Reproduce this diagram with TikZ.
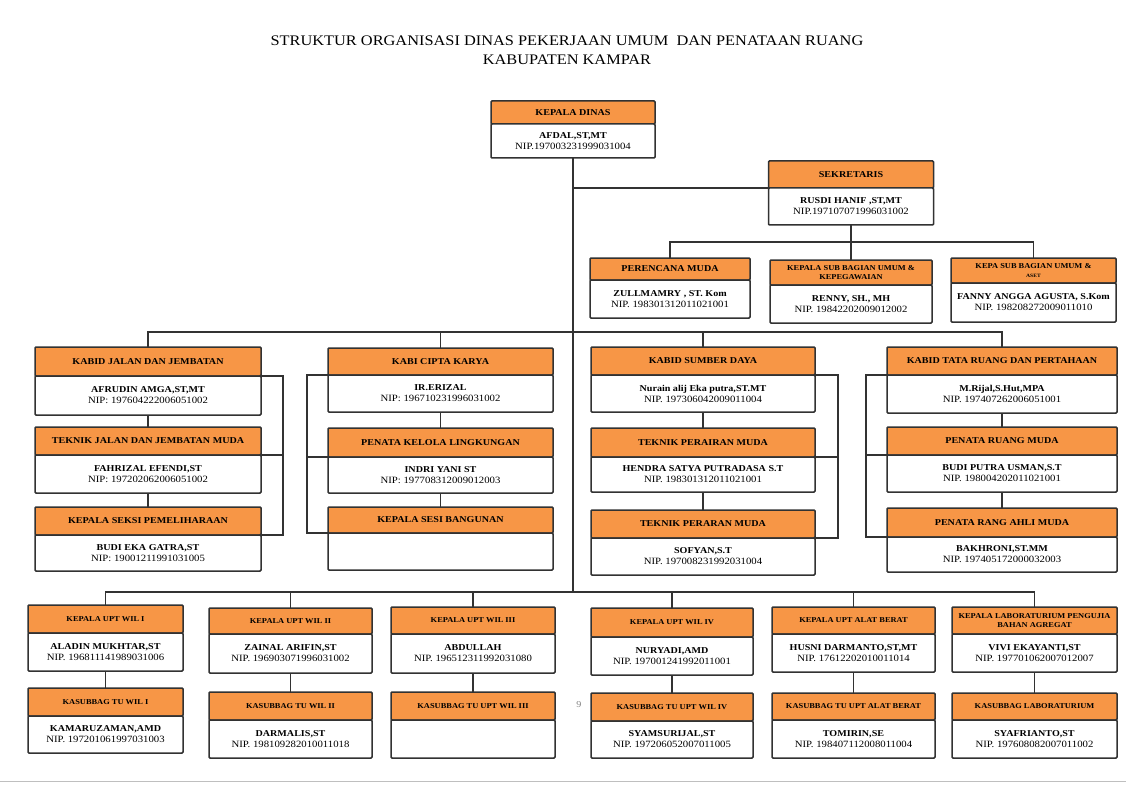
\documentclass[tikz,border=0pt]{standalone}
\usepackage{fontspec}
\setmainfont{Liberation Serif}[FakeStretch=1.12]
\usetikzlibrary{positioning}

\definecolor{boxorange}{RGB}{247,150,70}
\definecolor{linegray}{RGB}{50,50,50}
\newcommand{\nm}[1]{{\fontsize{9}{11}\selectfont\bfseries #1}}

\tikzset{
  hdbox/.style={draw=linegray, fill=boxorange, line width=1.5pt, rounded corners=1pt,
    inner sep=1pt, outer sep=0pt, align=center, anchor=north,
    font=\fontsize{9}{9.5}\selectfont\bfseries},
  hdsmall/.style={hdbox, font=\fontsize{7.5}{8.5}\selectfont\bfseries},
  bodybox/.style={draw=linegray, fill=white, line width=1.5pt, rounded corners=1pt,
    inner sep=1pt, outer sep=0pt, align=center, font=\fontsize{9.6}{11}\selectfont},
  link/.style={draw=linegray, line width=1.4pt},
}

\begin{document}
\begin{tikzpicture}[x=1pt, y=-1pt]
  \fill[white] (0,0) rectangle (1126,786);
  \useasboundingbox (0,0) rectangle (1126,786);
  \draw[black!25, line width=1pt] (0,781) -- (1126,781);

  % Title:
  \node[font=\fontsize{14.6}{16}\selectfont] (title1) at (567,41)
    {STRUKTUR ORGANISASI DINAS PEKERJAAN UMUM~ DAN PENATAAN RUANG};
  \node[font=\fontsize{14.6}{16}\selectfont] (title2) at (567,60) {KABUPATEN KAMPAR};

  % Kepala dinas and sekretaris:
  \node[hdbox, minimum width=164, minimum height=23] (kadish) at (573,101) {KEPALA DINAS};
  \node[bodybox, minimum width=164, minimum height=34, below=0pt of kadish] (kadisb)
    {\nm{AFDAL,ST,MT}\\NIP.197003231999031004};
  \node[hdbox, minimum width=165, minimum height=27] (sekrh) at (851,161) {SEKRETARIS};
  \node[bodybox, minimum width=165, minimum height=37, below=0pt of sekrh] (sekrb)
    {\nm{RUSDI HANIF ,ST,MT}\\NIP.197107071996031002};

  % Under sekretaris:
  \node[hdbox, minimum width=160, minimum height=22] (perench) at (670,258) {PERENCANA MUDA};
  \node[bodybox, minimum width=160, minimum height=38, below=0pt of perench] (perencb)
    {\nm{ZULLMAMRY , ST. Kom}\\NIP. 198301312011021001};
  \node[hdsmall, minimum width=162, minimum height=25] (kasubh) at (851,260)
    {KEPALA SUB BAGIAN UMUM \&\\KEPEGAWAIAN};
  \node[bodybox, minimum width=162, minimum height=38, below=0pt of kasubh] (kasubb)
    {\nm{RENNY, SH., MH}\\NIP. 19842202009012002};
  \node[hdsmall, minimum width=165, minimum height=25] (kepasubh) at (1033.5,258)
    {KEPA SUB BAGIAN UMUM \&\\{\fontsize{5}{5}\selectfont ASET}};
  \node[bodybox, minimum width=165, minimum height=39, below=0pt of kepasubh] (kepasubb)
    {\nm{FANNY ANGGA AGUSTA, S.Kom}\\NIP. 198208272009011010};

  % Bidang jalan dan jembatan:
  \node[hdbox, minimum width=226, minimum height=29] (jalanh) at (148,347) {KABID JALAN DAN JEMBATAN};
  \node[bodybox, minimum width=226, minimum height=39, below=0pt of jalanh] (jalanb)
    {\nm{AFRUDIN AMGA,ST,MT}\\NIP: 197604222006051002};
  \node[hdbox, minimum width=226, minimum height=28] (tjalanh) at (148,427) {TEKNIK JALAN DAN JEMBATAN MUDA};
  \node[bodybox, minimum width=226, minimum height=38, below=0pt of tjalanh] (tjalanb)
    {\nm{FAHRIZAL EFENDI,ST}\\NIP: 197202062006051002};
  \node[hdbox, minimum width=226, minimum height=28] (seksih) at (148,507) {KEPALA SEKSI PEMELIHARAAN};
  \node[bodybox, minimum width=226, minimum height=36, below=0pt of seksih] (seksib)
    {\nm{BUDI EKA GATRA,ST}\\NIP: 19001211991031005};

  % Bidang cipta karya:
  \node[hdbox, minimum width=225, minimum height=27] (ciptah) at (440.5,348) {KABI CIPTA KARYA};
  \node[bodybox, minimum width=225, minimum height=37, below=0pt of ciptah] (ciptab)
    {\nm{IR.ERIZAL}\\NIP: 196710231996031002};
  \node[hdbox, minimum width=225, minimum height=29] (kelolah) at (440.5,428) {PENATA KELOLA LINGKUNGAN};
  \node[bodybox, minimum width=225, minimum height=36, below=0pt of kelolah] (kelolab)
    {\nm{INDRI YANI ST}\\NIP: 197708312009012003};
  \node[hdbox, minimum width=225, minimum height=26] (sesih) at (440.5,507) {KEPALA SESI BANGUNAN};
  \node[bodybox, minimum width=225, minimum height=37, below=0pt of sesih] (sesib) {};

  % Bidang sumber daya:
  \node[hdbox, minimum width=224, minimum height=28] (sdayah) at (703,347) {KABID SUMBER DAYA};
  \node[bodybox, minimum width=224, minimum height=37, below=0pt of sdayah] (sdayab)
    {\nm{Nurain alij Eka putra,ST.MT}\\NIP. 197306042009011004};
  \node[hdbox, minimum width=224, minimum height=29] (pairah) at (703,428) {TEKNIK PERAIRAN MUDA};
  \node[bodybox, minimum width=224, minimum height=35, below=0pt of pairah] (pairab)
    {\nm{HENDRA SATYA PUTRADASA S.T}\\NIP. 198301312011021001};
  \node[hdbox, minimum width=224, minimum height=28] (pairbh) at (703,510) {TEKNIK PERARAN MUDA};
  \node[bodybox, minimum width=224, minimum height=37, below=0pt of pairbh] (pairbb)
    {\nm{SOFYAN,S.T}\\NIP. 197008231992031004};

  % Bidang tata ruang:
  \node[hdbox, minimum width=230, minimum height=28] (truangh) at (1002,347) {KABID TATA RUANG DAN PERTAHAAN};
  \node[bodybox, minimum width=230, minimum height=38, below=0pt of truangh] (truangb)
    {\nm{M.Rijal,S.Hut,MPA}\\NIP. 197407262006051001};
  \node[hdbox, minimum width=230, minimum height=28] (pruangh) at (1002,427) {PENATA RUANG MUDA};
  \node[bodybox, minimum width=230, minimum height=37, below=0pt of pruangh] (pruangb)
    {\nm{BUDI PUTRA USMAN,S.T}\\NIP. 198004202011021001};
  \node[hdbox, minimum width=230, minimum height=29] (prangh) at (1002,508) {PENATA RANG AHLI MUDA};
  \node[bodybox, minimum width=230, minimum height=35, below=0pt of prangh] (prangb)
    {\nm{BAKHRONI,ST.MM}\\NIP. 197405172000032003};

  % UPT dan laboratorium:
  \node[hdsmall, minimum width=155, minimum height=28] (upt1h) at (105.5,605) {KEPALA UPT WIL I};
  \node[bodybox, minimum width=155, minimum height=38, below=0pt of upt1h] (upt1b)
    {\nm{ALADIN MUKHTAR,ST}\\NIP. 196811141989031006};
  \node[hdsmall, minimum width=155, minimum height=28] (tu1h) at (105.5,688) {KASUBBAG TU WIL I};
  \node[bodybox, minimum width=155, minimum height=37, below=0pt of tu1h] (tu1b)
    {\nm{KAMARUZAMAN,AMD}\\NIP. 197201061997031003};

  \node[hdsmall, minimum width=163, minimum height=26] (upt2h) at (290.5,608) {KEPALA UPT WIL II};
  \node[bodybox, minimum width=163, minimum height=39, below=0pt of upt2h] (upt2b)
    {\nm{ZAINAL ARIFIN,ST}\\NIP. 196903071996031002};
  \node[hdsmall, minimum width=163, minimum height=28] (tu2h) at (290.5,692) {KASUBBAG TU WIL II};
  \node[bodybox, minimum width=163, minimum height=38, below=0pt of tu2h] (tu2b)
    {\nm{DARMALIS,ST}\\NIP. 198109282010011018};

  \node[hdsmall, minimum width=164, minimum height=27] (upt3h) at (473,607) {KEPALA UPT WIL III};
  \node[bodybox, minimum width=164, minimum height=39, below=0pt of upt3h] (upt3b)
    {\nm{ABDULLAH}\\NIP. 196512311992031080};
  \node[hdsmall, minimum width=164, minimum height=28] (tu3h) at (473,692) {KASUBBAG TU UPT WIL III};
  \node[bodybox, minimum width=164, minimum height=38, below=0pt of tu3h] (tu3b) {};

  \node[hdsmall, minimum width=162, minimum height=29] (upt4h) at (672,608) {KEPALA UPT WIL IV};
  \node[bodybox, minimum width=162, minimum height=38, below=0pt of upt4h] (upt4b)
    {\nm{NURYADI,AMD}\\NIP. 197001241992011001};
  \node[hdsmall, minimum width=162, minimum height=28] (tu4h) at (672,693) {KASUBBAG TU UPT WIL IV};
  \node[bodybox, minimum width=162, minimum height=37, below=0pt of tu4h] (tu4b)
    {\nm{SYAMSURIJAL,ST}\\NIP. 197206052007011005};

  \node[hdsmall, minimum width=163, minimum height=27] (alath) at (853.5,607) {KEPALA UPT ALAT BERAT};
  \node[bodybox, minimum width=163, minimum height=38, below=0pt of alath] (alatb)
    {\nm{HUSNI DARMANTO,ST,MT}\\NIP. 17612202010011014};
  \node[hdsmall, minimum width=163, minimum height=27] (tualath) at (853.5,693) {KASUBBAG TU UPT ALAT BERAT};
  \node[bodybox, minimum width=163, minimum height=38, below=0pt of tualath] (tualatb)
    {\nm{TOMIRIN,SE}\\NIP. 198407112008011004};

  \node[hdsmall, minimum width=165, minimum height=27] (labh) at (1034.5,607)
    {KEPALA LABORATURIUM PENGUJIA\\BAHAN AGREGAT};
  \node[bodybox, minimum width=165, minimum height=38, below=0pt of labh] (labb)
    {\nm{VIVI EKAYANTI,ST}\\NIP. 197701062007012007};
  \node[hdsmall, minimum width=165, minimum height=27] (tulabh) at (1034.5,693) {KASUBBAG LABORATURIUM};
  \node[bodybox, minimum width=165, minimum height=38, below=0pt of tulabh] (tulabb)
    {\nm{SYAFRIANTO,ST}\\NIP. 197608082007011002};

  \node[text=gray, font=\fontsize{9}{9}\selectfont] (pgnum) at (579,705) {9};

  % Connectors:
  \coordinate (rowa) at (851,242);
  \coordinate (rowb) at (573,332);
  \coordinate (rowc) at (573,592);
  \draw[link] (kadisb.south) -- (rowc);
  \draw[link] (sekrh.south west) -- (sekrh.south west -| kadisb.south);
  \draw[link] (sekrb.south) -- (rowa);
  \draw[link] (perench.north) |- (rowa) -| (kepasubh.north);
  \draw[link] (kasubh.north) -- (kasubh.north |- rowa);

  \draw[link] (jalanh.north) |- (rowb) -| (truangh.north);
  \draw[link] (ciptah.north) -- (ciptah.north |- rowb);
  \draw[link] (sdayah.north) -- (sdayah.north |- rowb);

  \draw[link] (upt1h.north) |- (rowc) -| (labh.north);
  \foreach \n in {upt2h, upt3h, upt4h, alath}
    \draw[link] (\n.north) -- (\n.north |- rowc);

  % Within each column:
  \foreach \a/\b in {jalanb/tjalanh, tjalanb/seksih, ciptab/kelolah, kelolab/sesih,
      sdayab/pairah, pairab/pairbh, truangb/pruangh, pruangb/prangh,
      upt1b/tu1h, upt2b/tu2h, upt3b/tu3h, upt4b/tu4h, alatb/tualath, labb/tulabh}
    \draw[link] (\a.south) -- (\b.north);

  % Side brackets:
  \coordinate (sidea) at (283,0);
  \coordinate (sideb) at (307,0);
  \coordinate (sidec) at (838,0);
  \coordinate (sided) at (866,0);
  \draw[link] (jalanh.south east) -- (jalanh.south east -| sidea) -- (seksih.south east -| sidea) -- (seksih.south east);
  \draw[link] (tjalanh.south east) -- (tjalanh.south east -| sidea);
  \draw[link] (ciptah.south west) -- (ciptah.south west -| sideb) -- (sesih.south west -| sideb) -- (sesih.south west);
  \draw[link] (kelolah.south west) -- (kelolah.south west -| sideb);
  \draw[link] (sdayah.south east) -- (sdayah.south east -| sidec) -- (pairbh.south east -| sidec) -- (pairbh.south east);
  \draw[link] (pairah.south east) -- (pairah.south east -| sidec);
  \draw[link] (truangh.south west) -- (truangh.south west -| sided) -- (prangh.south west -| sided) -- (prangh.south west);
  \draw[link] (pruangh.south west) -- (pruangh.south west -| sided);
\end{tikzpicture}
\end{document}
